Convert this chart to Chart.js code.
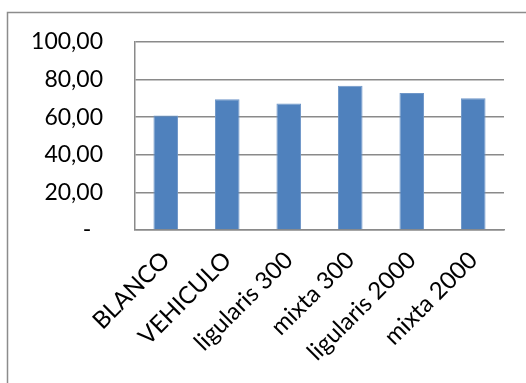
<!DOCTYPE html>
<html>
<head>
<meta charset="utf-8">
<script src="https://cdn.jsdelivr.net/npm/chart.js@4/dist/chart.umd.min.js"></script>
<style>
  html, body { margin: 0; padding: 0; background: #fff; }
  #wrap { width: 526px; height: 383px; position: relative; }
</style>
</head>
<body>
<div id="wrap"><canvas id="c" width="526" height="383"></canvas></div>
<script>
// Categories and values
const categories = ['BLANCO', 'VEHICULO', 'ligularis 300', 'mixta 300', 'ligularis 2000', 'mixta 2000'];
const values = [60.9, 69.6, 67.3, 76.7, 72.9, 70.1];
const yTicks = [0, 20, 40, 60, 80, 100];

const FONT = 'Lato, "Liberation Sans", sans-serif';
const GRID = '#8a8a8a';

// Outer frame around the chart
const framePlugin = {
  id: 'frame',
  beforeDraw(chart) {
    const ctx = chart.ctx;
    ctx.save();
    ctx.strokeStyle = '#8c8c8c';
    ctx.lineWidth = 1.5;
    ctx.strokeRect(7.5, 12.5, 700, 700);
    ctx.restore();
  }
};

function fmt(v) {
  if (v === 0) return '-\u00a0\u00a0';
  return v.toFixed(2).replace('.', ',');
}

new Chart(document.getElementById('c'), {
  type: 'bar',
  data: {
    labels: categories,
    datasets: [{
      data: values,
      backgroundColor: '#4f81bd',
      borderColor: '#6e96c8',
      borderWidth: 1,
      barPercentage: 0.4,
      categoryPercentage: 1.0
    }]
  },
  options: {
    responsive: false,
    animation: false,
    layout: { padding: { top: 42, right: 22, left: 0, bottom: 0 } },
    plugins: { legend: { display: false }, tooltip: { enabled: false } },
    scales: {
      x: {
        grid: { display: false, drawTicks: false },
        border: { display: true, color: GRID, width: 1.5 },
        ticks: {
          color: '#000',
          font: { family: FONT, size: 24 },
          minRotation: 45,
          maxRotation: 45,
          padding: 16,
          autoSkip: false
        },
        afterFit(s) { s.height = 153; }
      },
      y: {
        min: 0,
        max: 100,
        afterBuildTicks(s) { s.ticks = yTicks.map(v => ({ value: v })); },
        // invisible tick marks keep the labels clear of the axis
        grid: { color: GRID, lineWidth: 1.5, drawTicks: true, tickLength: 28, tickColor: 'rgba(0,0,0,0)' },
        border: { display: true, color: GRID, width: 1.5 },
        ticks: {
          color: '#000',
          font: { family: FONT, size: 23 },
          padding: 4,
          callback: v => fmt(v)
        },
        afterFit(s) { s.width = 135; }
      }
    }
  },
  plugins: [framePlugin]
});
</script>
</body>
</html>
